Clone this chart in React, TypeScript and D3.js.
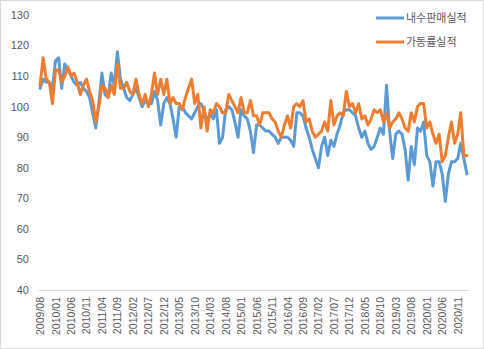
import React from "react";
import * as d3 from "d3";

const W = 484;
const H = 349;

// Monthly categories 2009/08 .. 2021/02
const START_YEAR = 2009;
const START_MONTH = 8;
const N_MONTHS = 139;
const months: string[] = Array.from({ length: N_MONTHS }, (_, i) => {
  const t = START_MONTH - 1 + i;
  const y = START_YEAR + Math.floor(t / 12);
  const m = (t % 12) + 1;
  return `${y}/${m < 10 ? "0" + m : m}`;
});

const seriesNames = ["내수판매실적", "가동률실적"];

const domesticSales: number[] = [
  106, 109, 108, 108, 106, 115, 116, 106, 114, 112,
  110, 108, 107, 108, 106, 105, 103, 98, 93, 101,
  111, 104, 103, 111, 107, 118, 109, 106, 103, 102,
  104, 106, 103, 100, 102, 101, 101, 105, 102, 94,
  101, 103, 101, 96, 90, 100, 100, 98, 97, 96,
  98, 100, 101, 99, 95, 98, 96, 99, 88, 90,
  99, 100, 99, 95, 90, 99, 97, 96, 92, 85,
  94, 94, 93, 92, 92, 91, 90, 88, 90, 90,
  90, 89, 87, 98, 98, 97, 93, 90, 86, 83,
  80, 87, 90, 84, 89, 87, 91, 94, 98, 99,
  99, 98, 97, 93, 90, 92, 88, 86, 87, 90,
  93, 91, 107, 92, 83, 91, 92, 91, 86, 76,
  87, 81, 93, 92, 95, 84, 82, 74, 82, 82,
  78, 69, 78, 82, 82, 83, 88, 83, 78,
];

const utilization: number[] = [
  107, 116, 109, 108, 101, 112, 112, 108, 110, 113,
  110, 111, 108, 104, 107, 109, 105, 102, 95, 100,
  107, 106, 103, 107, 104, 114, 106, 106, 108, 105,
  104, 109, 104, 101, 104, 100, 104, 111, 104, 109,
  104, 109, 101, 103, 101, 101, 99, 103, 106, 109,
  101, 104, 93, 100, 92, 99, 98, 101, 100, 98,
  98, 104, 102, 100, 98, 103, 98, 98, 102, 97,
  97, 94, 98, 98, 98, 96, 95, 92, 90, 94,
  97, 93, 100, 101, 100, 102, 95, 96, 92, 90,
  91, 92, 95, 92, 102, 94, 97, 98, 97, 105,
  100, 101, 98, 101, 96, 97, 94, 96, 99, 98,
  99, 95, 98, 93, 95, 96, 98, 96, 93, 92,
  98, 95, 100, 101, 101, 93, 95, 91, 88, 91,
  82, 84, 90, 95, 88, 91, 98, 84, 84,
];

const yTicks = [40, 50, 60, 70, 80, 90, 100, 110, 120, 130];
const colors = ["#5B9BD5", "#ED7D31"];

export default function App() {
  const x = d3
    .scalePoint<string>()
    .domain(months)
    .range([38.5, 468.5])
    .padding(0.5);
  const y = d3.scaleLinear().domain([40, 130]).range([290, 15]);

  const line = d3
    .line<number>()
    .x((_, i) => x(months[i]) as number)
    .y((d) => y(d));

  const series = [domesticSales, utilization];
  const tickLabels = months.filter((_, i) => i % 5 === 0);
  const font = "'Liberation Sans', Arial, sans-serif";

  return (
    <svg
      width={W}
      height={H}
      style={{ position: "absolute", left: 0, top: 0, background: "#fff" }}
    >
      <rect x={0.5} y={0.5} width={W - 1} height={H - 1} fill="#fff" stroke="#d9d9d9" />
      {yTicks.map((t) => (
        <text
          key={t}
          x={29}
          y={y(t)}
          dy="0.35em"
          textAnchor="end"
          fontSize={11}
          fontFamily={font}
          fill="#595959"
        >
          {t}
        </text>
      ))}
      <line x1={38.5} x2={468.5} y1={290.5} y2={290.5} stroke="#d9d9d9" strokeWidth={1} />
      {tickLabels.map((lab) => {
        const cx = x(lab) as number;
        return (
          <text
            key={lab}
            transform={`translate(${cx + 4},${297}) rotate(-90)`}
            textAnchor="end"
            fontSize={10.5}
            fontFamily={font}
            fill="#595959"
          >
            {lab}
          </text>
        );
      })}
      {series.map((s, k) => (
        <path
          key={k}
          d={line(s) || ""}
          fill="none"
          stroke={colors[k]}
          strokeWidth={3}
          strokeLinejoin="round"
          strokeLinecap="round"
        />
      ))}
      {seriesNames.map((name, k) => (
        <g key={name} transform={`translate(376,${18 + k * 24})`}>
          <line x1={0} x2={28} y1={0} y2={0} stroke={colors[k]} strokeWidth={3} />
          <text
            x={30}
            y={0}
            dy="0.35em"
            fontSize={11}
            fontFamily="'Noto Sans CJK KR', sans-serif"
            fill="#595959"
          >
            {name}
          </text>
        </g>
      ))}
    </svg>
  );
}
